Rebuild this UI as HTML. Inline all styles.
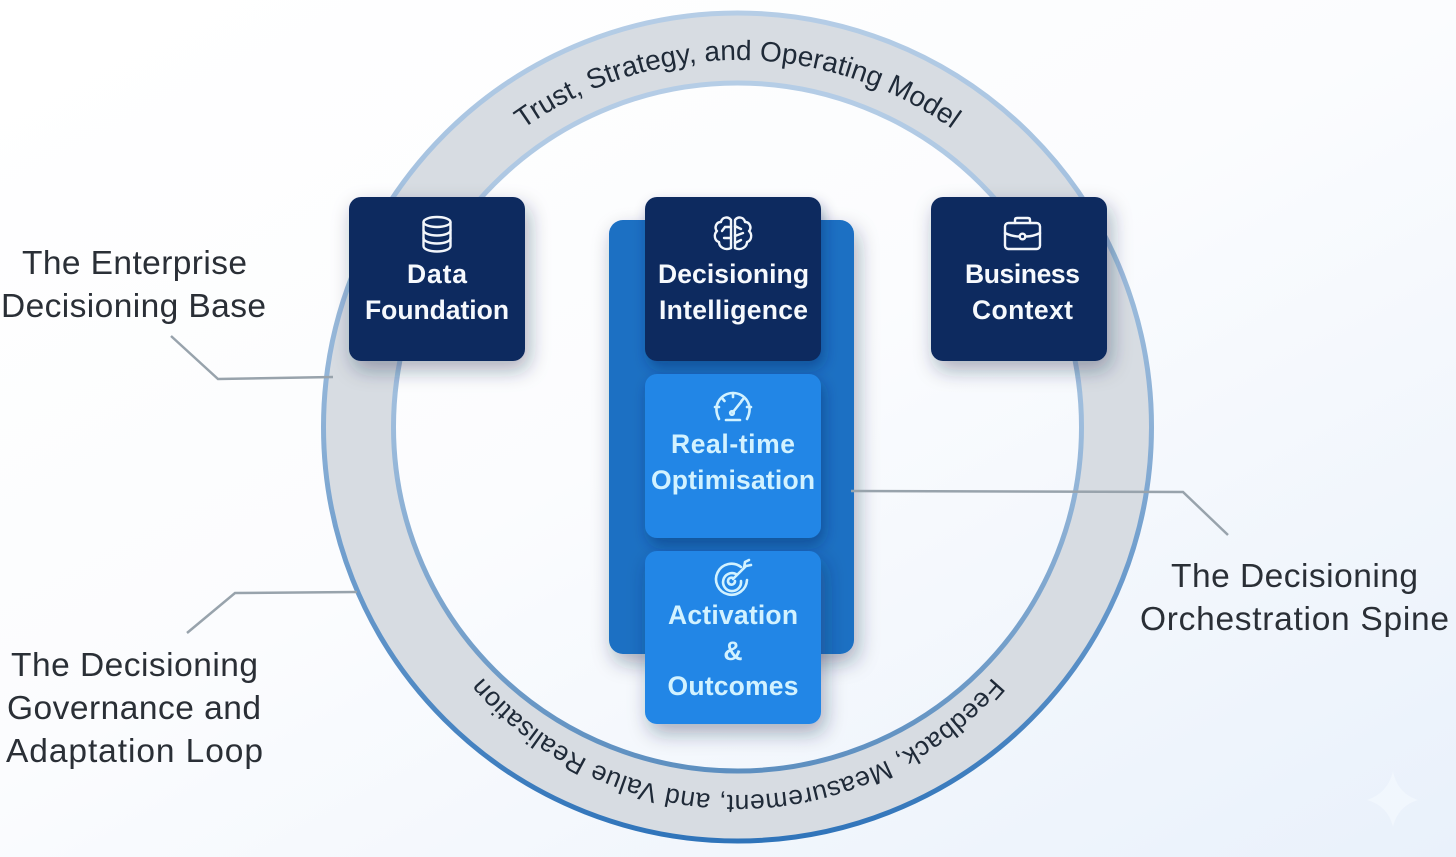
<!DOCTYPE html>
<html lang="en">
<head>
<meta charset="utf-8">
<title>Enterprise Decisioning Diagram</title>
<style>
html,body{margin:0;padding:0;background:#fff}
svg{display:block;width:1456px;height:857px}
text{font-family:"Liberation Sans",sans-serif}
.lbl{font-size:33.5px;fill:#2a2f36;text-anchor:middle}
.w{font-size:26.5px;font-weight:700;fill:#f6f9fd;text-anchor:middle}
.c{font-size:26.5px;font-weight:700;fill:#d2f2ff;text-anchor:middle}
.ring{font-size:28px;fill:#1f2a38;text-anchor:middle}
.ico{fill:none;stroke:#f2f6fb;stroke-width:2.4;stroke-linecap:round;stroke-linejoin:round}
.icoc{fill:none;stroke:#d2f2ff;stroke-width:2.6;stroke-linecap:round;stroke-linejoin:round}
</style>
</head>
<body>
<svg width="1456" height="857" viewBox="0 0 1456 857" xmlns="http://www.w3.org/2000/svg">
<defs>
<linearGradient id="bg" x1="0.1" y1="0" x2="1" y2="1">
<stop offset="0" stop-color="#ffffff"/><stop offset="0.45" stop-color="#fbfcfe"/><stop offset="1" stop-color="#e9f1fb"/>
</linearGradient>
<linearGradient id="edge" x1="0" y1="0" x2="0" y2="1">
<stop offset="0" stop-color="#b5cde6"/><stop offset="0.5" stop-color="#8db1d6"/><stop offset="1" stop-color="#2f74ba"/>
</linearGradient>
<linearGradient id="edge2" x1="0" y1="0" x2="0" y2="1">
<stop offset="0" stop-color="#b5cde6"/><stop offset="0.5" stop-color="#9dbcdc"/><stop offset="1" stop-color="#5d8fc0"/>
</linearGradient>
<filter id="sh" x="-30%" y="-30%" width="170%" height="170%">
<feDropShadow dx="4" dy="9" stdDeviation="10" flood-color="#1c2c48" flood-opacity="0.36"/>
</filter>
<filter id="sh2" x="-30%" y="-30%" width="170%" height="170%">
<feDropShadow dx="3" dy="7" stdDeviation="7" flood-color="#0b2c5c" flood-opacity="0.4"/>
</filter>
<path id="tArc" d="M 369.5 428 A 368 368 0 0 1 1105.5 428"/>
<path id="bArc" d="M 1072.5 460 A 335 335 0 0 1 402.5 460"/>
</defs>

<rect width="1456" height="857" fill="url(#bg)"/>
<path d="M1393 771 Q1397 793 1418 800 Q1398 806 1393 827 Q1388 806 1367 800 Q1388 793 1393 771Z" fill="#f8fbff" opacity=".5"/>

<!-- ring -->
<circle cx="737.5" cy="427" r="380" fill="none" stroke="#d7dce2" stroke-width="72"/>
<circle cx="737.5" cy="427" r="414" fill="none" stroke="url(#edge)" stroke-width="5"/>
<circle cx="737.5" cy="427" r="344" fill="none" stroke="url(#edge2)" stroke-width="5"/>

<text class="ring"><textPath href="#tArc" startOffset="50%" textLength="458" lengthAdjust="spacing">Trust, Strategy, and Operating Model</textPath></text>
<text class="ring" style="font-size:26.5px"><textPath href="#bArc" startOffset="50%" textLength="580" lengthAdjust="spacing">Feedback, Measurement, and Value Realisation</textPath></text>

<!-- spine -->
<rect x="609" y="220" width="245" height="434" rx="14" fill="#1a6fc3" filter="url(#sh)"/>

<!-- leaders -->
<g fill="none" stroke="#98a3ac" stroke-width="2.5">
<polyline points="171,336 218,379 333,377"/>
<polyline points="187,633 235,593 357,592"/>
<polyline points="851,491 1183,492 1228,535"/>
</g>

<!-- boxes -->
<rect x="349" y="197" width="176" height="164" rx="12" fill="#0e2a5f" filter="url(#sh)"/>
<rect x="645" y="197" width="176" height="164" rx="12" fill="#0e2a5f" filter="url(#sh2)"/>
<rect x="931" y="197" width="176" height="164" rx="12" fill="#0e2a5f" filter="url(#sh)"/>
<rect x="645" y="374" width="176" height="164" rx="12" fill="#2286e6" filter="url(#sh2)"/>
<rect x="645" y="551" width="176" height="173" rx="12" fill="#2286e6" filter="url(#sh)"/>

<!-- box text -->
<text class="w" x="437" y="283" textLength="60" lengthAdjust="spacing">Data</text>
<text class="w" x="437" y="319" textLength="144" lengthAdjust="spacing">Foundation</text>
<text class="w" x="733.5" y="283" textLength="151" lengthAdjust="spacing">Decisioning</text>
<text class="w" x="733.5" y="319" textLength="149" lengthAdjust="spacing">Intelligence</text>
<text class="w" x="1022.5" y="283" textLength="115" lengthAdjust="spacing">Business</text>
<text class="w" x="1022.5" y="319" textLength="101" lengthAdjust="spacing">Context</text>
<text class="c" x="733" y="453" textLength="124" lengthAdjust="spacing">Real-time</text>
<text class="c" x="733" y="489" textLength="164" lengthAdjust="spacing">Optimisation</text>
<text class="c" x="733" y="624" textLength="130" lengthAdjust="spacing">Activation</text>
<text class="c" x="733" y="660">&amp;</text>
<text class="c" x="733" y="695" textLength="131" lengthAdjust="spacing">Outcomes</text>

<!-- database icon -->
<g class="ico">
<ellipse cx="437" cy="222" rx="13.5" ry="5"/>
<path d="M423.500 222V246C423.500 249 429 251.500 437 251.500S450.500 249 450.500 246V222"/>
<path d="M423.500 230C423.500 233 429 235.500 437 235.500S450.500 233 450.500 230"/>
<path d="M423.500 238C423.500 241 429 243.500 437 243.500S450.500 241 450.500 238"/>
</g>

<!-- brain icon -->
<g class="ico" stroke-width="2">
<path d="M731 220C728 216 722 217 721 222C716 222 714 228 717 231C713 235 715 241 719 242C719 247 725 251 731 248Z"/>
<path d="M735 220C738 216 744 217 745 222C750 222 752 228 749 231C753 235 751 241 747 242C747 247 741 251 735 248Z"/>
<path d="M731 227H725M725 227L722 231M731 238H724M735 226L741 229M735 236L743 233M735 243L741 240"/>
</g>

<!-- briefcase icon -->
<g class="ico">
<rect x="1005" y="223" width="35" height="26" rx="3.500"/>
<path d="M1015 223V220C1015 218.500 1016 218 1017 218H1028C1029 218 1030 218.500 1030 220V223"/>
<path d="M1005 233C1011 236 1016 236.500 1019 236.500M1026 236.500C1029 236.500 1034 236 1040 233"/>
<circle cx="1022.500" cy="236.500" r="2.800"/>
</g>

<!-- gauge icon -->
<g class="icoc">
<path d="M719 419C712 405 721 393 733 393S754 405 747 419"/>
<path d="M733 393V397M722 398L724.500 401M744 398L741.500 401M715 407H719M751 407H747"/>
<path d="M741 402L733 412"/>
<circle cx="732" cy="413" r="1.800"/>
<path d="M726 420H740"/>
</g>

<!-- target icon -->
<g class="icoc">
<path d="M741 567A15.500 15.500 0 1 0 747 580"/>
<path d="M736 574A9 9 0 1 0 741 581"/>
<path d="M733 578A3.500 3.500 0 1 0 735 581"/>
<path d="M733 579L746 566M744 568L745 562L749 560M746 566L751 565"/>
</g>

<!-- labels -->
<text class="lbl" x="134.500" y="274" textLength="225" lengthAdjust="spacing">The Enterprise</text>
<text class="lbl" x="133.500" y="317" textLength="265" lengthAdjust="spacing">Decisioning Base</text>
<text class="lbl" x="134.500" y="676" textLength="247" lengthAdjust="spacing">The Decisioning</text>
<text class="lbl" x="134" y="719" textLength="254" lengthAdjust="spacing">Governance and</text>
<text class="lbl" x="134.500" y="762" textLength="257" lengthAdjust="spacing">Adaptation Loop</text>
<text class="lbl" x="1294.500" y="587" textLength="247" lengthAdjust="spacing">The Decisioning</text>
<text class="lbl" x="1294.500" y="630" textLength="309" lengthAdjust="spacing">Orchestration Spine</text>
</svg>
</body>
</html>
